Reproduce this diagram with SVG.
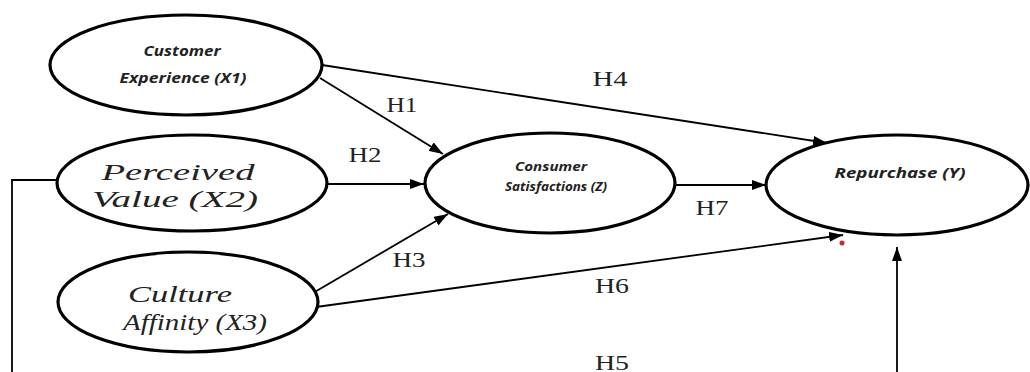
<svg xmlns="http://www.w3.org/2000/svg" width="1030" height="372" viewBox="0 0 1030 372">
<style>
.node{fill:#fff;stroke:#000;stroke-width:3.2}
.sans{font-family:"Open Sans","Liberation Sans",sans-serif;font-weight:bold;font-style:italic;fill:#222;text-anchor:middle}
.serif{font-family:"Liberation Serif","Times New Roman",serif;font-style:italic;font-size:23px;fill:#222;text-anchor:middle}
.lab{font-family:"Liberation Serif","Times New Roman",serif;font-size:22px;fill:#222;text-anchor:middle}
.con{stroke:#000;stroke-width:1.8;fill:none}
</style>
<defs>
<marker id="ah" viewBox="0 0 14 10" refX="14" refY="5" markerWidth="14" markerHeight="10" orient="auto" markerUnits="userSpaceOnUse"><path d="M0,0 L14,5 L0,10 z" fill="#000"/></marker>
</defs>
<rect width="1030" height="372" fill="#fff"/>
<g id="connectors">
<line class="con" x1="320" y1="78" x2="443" y2="154" marker-end="url(#ah)"/>
<line class="con" x1="322" y1="65" x2="827" y2="143" marker-end="url(#ah)"/>
<line class="con" x1="328" y1="184" x2="424" y2="184" marker-end="url(#ah)"/>
<line class="con" x1="313" y1="293" x2="448" y2="214" marker-end="url(#ah)"/>
<line class="con" x1="316" y1="307" x2="843" y2="235" marker-end="url(#ah)"/>
<line class="con" x1="675" y1="185" x2="766" y2="185" marker-end="url(#ah)"/>
<line class="con" x1="897" y1="372" x2="897" y2="247" marker-end="url(#ah)"/>
<polyline class="con" points="12,372 12,180 58,180"/>
<text class="lab" x="402" y="112" textLength="31" lengthAdjust="spacingAndGlyphs">H1</text>
<text class="lab" x="365" y="162" textLength="33" lengthAdjust="spacingAndGlyphs">H2</text>
<text class="lab" x="409" y="267" textLength="33" lengthAdjust="spacingAndGlyphs">H3</text>
<text class="lab" x="610" y="86" textLength="35" lengthAdjust="spacingAndGlyphs">H4</text>
<text class="lab" x="612" y="370" textLength="34" lengthAdjust="spacingAndGlyphs">H5</text>
<text class="lab" x="612" y="293" textLength="34" lengthAdjust="spacingAndGlyphs">H6</text>
<text class="lab" x="712" y="215" textLength="33" lengthAdjust="spacingAndGlyphs">H7</text>
<circle cx="842" cy="243" r="2.5" fill="#d0203a"/>
</g>
<g id="customer-experience">
<ellipse class="node" cx="186" cy="65" rx="136" ry="50"/>
<text class="sans" x="182" y="56" font-size="14" textLength="77" lengthAdjust="spacingAndGlyphs">Customer</text>
<text class="sans" x="183" y="83" font-size="14" textLength="127" lengthAdjust="spacingAndGlyphs">Experience (X1)</text>
</g>
<g id="perceived-value">
<ellipse class="node" cx="192" cy="183" rx="135" ry="48"/>
<text class="serif" x="178" y="180" textLength="153" lengthAdjust="spacingAndGlyphs">Perceived</text>
<text class="serif" x="175" y="207" textLength="166" lengthAdjust="spacingAndGlyphs">Value (X2)</text>
</g>
<g id="culture-affinity">
<ellipse class="node" cx="188" cy="302" rx="130" ry="50"/>
<text class="serif" x="180" y="302" textLength="104" lengthAdjust="spacingAndGlyphs">Culture</text>
<text class="serif" x="195" y="330" textLength="144" lengthAdjust="spacingAndGlyphs">Affinity (X3)</text>
</g>
<g id="consumer-satisfactions">
<ellipse class="node" cx="550" cy="183" rx="125" ry="50"/>
<text class="sans" x="551" y="171" font-size="13" textLength="72" lengthAdjust="spacingAndGlyphs">Consumer</text>
<text class="sans" x="556" y="191" font-size="13" textLength="102" lengthAdjust="spacingAndGlyphs">Satisfactions (Z)</text>
</g>
<g id="repurchase">
<ellipse class="node" cx="897" cy="185" rx="131" ry="50"/>
<text class="sans" x="900" y="178" font-size="15" textLength="131" lengthAdjust="spacingAndGlyphs">Repurchase (Y)</text>
</g>
</svg>
